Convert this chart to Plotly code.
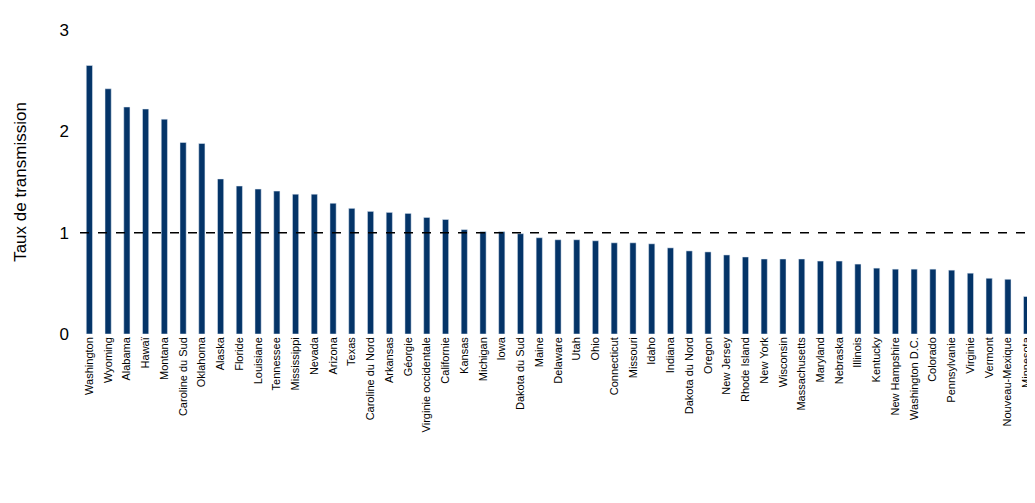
import plotly.graph_objects as go

states = ["Washington","Wyoming","Alabama","Hawaï","Montana","Caroline du Sud","Oklahoma","Alaska","Floride","Louisiane","Tennessee","Mississippi","Nevada","Arizona","Texas","Caroline du Nord","Arkansas","Géorgie","Virginie occidentale","Californie","Kansas","Michigan","Iowa","Dakota du Sud","Maine","Delaware","Utah","Ohio","Connecticut","Missouri","Idaho","Indiana","Dakota du Nord","Oregon","New Jersey","Rhode Island","New York","Wisconsin","Massachusetts","Maryland","Nebraska","Illinois","Kentucky","New Hampshire","Washington D.C.","Colorado","Pennsylvanie","Virginie","Vermont","Nouveau-Mexique","Minnesota"]
rates = [2.65,2.42,2.24,2.22,2.12,1.89,1.88,1.53,1.46,1.43,1.41,1.38,1.38,1.29,1.24,1.21,1.20,1.19,1.15,1.13,1.03,1.01,1.01,0.99,0.95,0.93,0.93,0.92,0.90,0.90,0.89,0.85,0.82,0.81,0.78,0.76,0.74,0.74,0.74,0.72,0.72,0.69,0.65,0.64,0.64,0.64,0.63,0.60,0.55,0.54,0.37]
threshold = 1

fig = go.Figure(go.Bar(x=states, y=rates, marker_color="#043468", width=0.33))
fig.add_hline(y=threshold, line=dict(color="black", width=1.5, dash="dash"))
fig.update_layout(
    width=1035, height=503, plot_bgcolor="white", paper_bgcolor="white",
    margin=dict(l=72, r=7, t=22, b=177), showlegend=False,
    font=dict(family="Liberation Sans, Arial", color="black"),
    bargap=0.6,
)
fig.update_xaxes(tickangle=-90, tickfont=dict(size=11), showline=False, ticks="", range=[-0.5, len(states)-0.5])
fig.update_yaxes(range=[0, 3], tickvals=[0,1,2,3], tickfont=dict(size=17), showgrid=False, zeroline=False,
                 title=dict(text="Taux de transmission", font=dict(size=17), standoff=28), ticklabelstandoff=10)
fig.write_html("out.html")
